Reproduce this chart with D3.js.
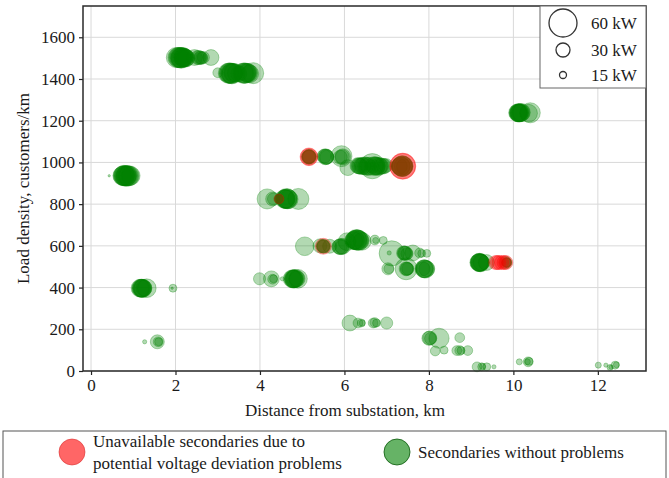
<!DOCTYPE html>
<html>
<head>
<meta charset="utf-8">
<script src="https://cdn.jsdelivr.net/npm/d3@7/dist/d3.min.js"></script>
<style>
  html, body { margin: 0; padding: 0; background: #fff; }
  svg { display: block; }
  svg text { font-family: "Liberation Serif", "Times New Roman", Times, "DejaVu Serif", serif !important; fill: #1a1a1a; }
</style>
</head>
<body>
<svg id="chart" width="669" height="478"></svg>
<script>
// ---------- data ----------
const xTicks = [0, 2, 4, 6, 8, 10, 12];
const yTicks = [0, 200, 400, 600, 800, 1000, 1200, 1400, 1600];
const sizeLegendKW = [60, 30, 15];
const seriesNames = ["Unavailable secondaries due to|potential voltage deviation problems", "Secondaries without problems"];

// [distance km, load density customers/km, kW]
const okPoints = [
  // ~1500
  [2.02,1503,43],[2.06,1503,43],[2.08,1503,43],[2.10,1503,43],[2.12,1501,43],[2.13,1503,43],[2.14,1500,43],[2.16,1504,42],[2.18,1505,40],[2.19,1502,40],[2.20,1502,40],[2.22,1503,38],[2.24,1500,38],[2.26,1500,35],
  [2.45,1503,34],[2.52,1503,30],[2.55,1503,30],[2.58,1502,28],[2.60,1502,28],[2.62,1500,26],[2.66,1503,26],[2.84,1503,34],
  // ~1428
  [3.00,1430,21],[3.25,1428,43],[3.27,1428,43],[3.28,1428,43],[3.30,1428,43],[3.32,1426,43],[3.33,1428,43],[3.34,1425,43],[3.36,1430,40],[3.38,1430,40],[3.44,1428,38],[3.50,1425,34],
  [3.60,1428,43],[3.62,1428,43],[3.64,1428,43],[3.66,1428,43],[3.68,1430,40],[3.70,1430,40],[3.72,1428,40],[3.76,1425,38],[3.84,1428,45],
  // ~936
  [0.43,936,5],[0.74,936,40],[0.76,936,42],[0.78,938,43],[0.79,936,43],[0.80,936,43],[0.82,934,43],[0.83,936,43],[0.84,936,43],[0.86,936,43],[0.88,935,43],[0.90,936,43],[0.94,936,40],
  // ~1238
  [10.10,1238,38],[10.11,1238,38],[10.12,1238,38],[10.13,1236,38],[10.14,1238,38],[10.15,1238,38],[10.16,1238,38],[10.18,1238,38],[10.19,1240,38],[10.12,1238,36],[10.36,1236,38],[10.40,1238,43],
  // ~1027 / ~982
  [5.16,1027,32],[5.16,1027,30],[5.16,1027,30],[5.16,1027,28],[5.16,1027,28],[5.52,1030,30],[5.55,1027,34],[5.56,1027,32],[5.57,1027,32],[5.58,1025,30],[5.90,1025,30],[5.93,1030,45],[5.96,1027,34],[5.95,1027,30],
  [6.08,975,34],[6.32,985,34],[6.34,983,34],[6.36,983,34],[6.38,982,34],[6.42,982,36],[6.44,984,36],[6.48,984,38],[6.52,982,38],[6.55,980,38],[6.60,982,38],[6.66,982,54],[6.70,982,40],[6.72,985,38],[6.74,982,38],[6.76,983,38],[6.80,980,38],[6.83,982,36],
  [6.86,982,34],[6.90,982,34],[6.94,982,32],[6.98,985,30],[7.30,982,34],[7.33,982,40],[7.34,982,40],[7.36,982,44],[7.37,982,44],[7.38,982,44],[7.40,982,40],[7.42,980,34],
  // ~825
  [4.17,825,43],[4.30,825,30],[4.32,825,26],[4.45,825,21],[4.45,825,18],[4.45,825,18],[4.58,825,40],[4.60,825,40],[4.61,825,40],[4.62,825,38],[4.63,827,43],[4.64,825,42],[4.65,825,42],[4.68,823,40],[4.91,825,45],
  // ~600
  [5.06,598,40],[5.42,600,30],[5.50,598,30],[5.50,598,28],[5.50,598,28],[5.50,598,26],[5.65,598,30],[5.88,596,32],[5.90,596,34],[5.92,596,34],[5.94,594,30],[5.96,598,34],
  [6.06,620,38],[6.22,625,38],[6.24,628,40],[6.26,628,40],[6.28,630,43],[6.29,628,43],[6.30,628,43],[6.32,628,43],[6.34,626,42],[6.36,625,40],[6.42,622,38],
  [6.72,628,21],[6.74,626,13],[6.92,626,17],
  // ~564
  [7.12,564,54],[7.06,566,9],[7.40,566,30],[7.42,565,30],[7.43,565,30],[7.45,564,30],[7.48,562,26],[7.62,566,34],[7.78,566,21],[7.83,564,17],[7.95,564,17],
  // ~490
  [7.03,490,26],[7.05,490,21],[7.46,490,47],[7.46,490,30],[7.47,490,28],[7.48,490,28],[7.50,490,26],[7.86,490,30],[7.88,490,38],[7.89,490,38],[7.90,490,38],[7.92,488,38],[7.95,490,34],
  // ~520
  [9.18,520,38],[9.19,520,38],[9.20,522,38],[9.20,520,38],[9.21,520,38],[9.22,518,38],[9.23,520,36],[9.24,520,34],[9.36,520,34],[9.82,520,26],[9.84,520,21],[9.84,520,20],[9.83,520,20],
  // ~442
  [3.99,442,26],[4.27,442,34],[4.30,440,21],[4.32,442,17],[4.53,442,9],[4.76,442,38],[4.78,442,38],[4.79,442,38],[4.80,440,38],[4.81,442,38],[4.82,442,38],[4.84,444,38],[4.88,442,34],[4.90,442,40],
  // ~397
  [1.16,397,38],[1.18,397,38],[1.19,397,38],[1.20,397,38],[1.21,397,38],[1.22,395,38],[1.23,397,38],[1.25,398,34],[1.32,397,40],[1.94,397,17],[1.92,397,5],
  // ~140
  [1.27,140,9],[1.57,140,30],[1.59,140,21],[1.60,140,17],
  // ~230
  [6.13,230,34],[6.32,230,21],[6.40,230,17],[6.42,230,13],[6.68,230,21],[6.72,232,21],[6.76,230,17],[7.00,230,26],
  // ~157 / ~98
  [8.00,157,30],[8.02,158,30],[8.04,156,26],[8.24,157,43],[8.73,160,21],
  [8.15,96,21],[8.36,100,17],[8.66,98,21],[8.73,98,21],[8.76,98,17],[8.92,98,21],
  // near zero
  [9.14,20,21],[9.25,20,17],[9.27,22,13],[9.37,20,17],[9.54,20,9],
  [10.14,44,13],[10.33,44,13],[10.35,44,21],[10.37,46,17],
  [12.01,28,13],[12.19,28,9],[12.29,17,13],[12.31,18,9],[12.41,28,17],[12.44,30,13]
];

const problemPoints = [
  [5.16,1027,38],[5.16,1027,36],[7.38,982,56],[7.38,982,54],
  [4.45,825,21],
  [5.50,598,34],
  [9.58,520,30],[9.62,520,30],[9.66,520,30],[9.72,520,30],[9.78,520,30],[9.82,520,30]
];

// ---------- layout ----------
const svg = d3.select("#chart");
const plot = { left: 83, right: 646, top: 6, bottom: 371 };

const x = d3.scaleLinear().domain([-0.19, 13.14]).range([plot.left, plot.right]);
const y = d3.scaleLinear().domain([0, 1750]).range([plot.bottom, plot.top]);
const r = d3.scaleLinear().domain([0, 60]).range([0, 14]);

const green = "#008000", red = "#ff0000";

// grid
const grid = svg.append("g");
grid.selectAll("line.gx").data(xTicks).join("line")
  .attr("x1", d => x(d)).attr("x2", d => x(d))
  .attr("y1", plot.top).attr("y2", plot.bottom)
  .attr("stroke", "#d9d9d9").attr("stroke-width", 1);
grid.selectAll("line.gy").data(yTicks).join("line")
  .attr("y1", d => y(d)).attr("y2", d => y(d))
  .attr("x1", plot.left).attr("x2", plot.right)
  .attr("stroke", "#d9d9d9").attr("stroke-width", 1);

// points
const pts = svg.append("g");
pts.selectAll("circle.ok").data(okPoints).join("circle")
  .attr("cx", d => x(d[0])).attr("cy", d => y(d[1])).attr("r", d => r(d[2]))
  .attr("fill", green).attr("fill-opacity", 0.3)
  .attr("stroke", green).attr("stroke-opacity", 0.3).attr("stroke-width", 1);
pts.selectAll("circle.bad").data(problemPoints).join("circle")
  .attr("cx", d => x(d[0])).attr("cy", d => y(d[1])).attr("r", d => r(d[2]))
  .attr("fill", red).attr("fill-opacity", 0.3)
  .attr("stroke", red).attr("stroke-opacity", 0.3).attr("stroke-width", 1);

// axes
const xAxis = svg.append("g").attr("transform", `translate(0,${plot.bottom})`)
  .call(d3.axisBottom(x).tickValues(xTicks).tickFormat(d3.format("d")).tickSize(4).tickPadding(4));
const yAxis = svg.append("g").attr("transform", `translate(${plot.left},0)`)
  .call(d3.axisLeft(y).tickValues(yTicks).tickFormat(d3.format("d")).tickSize(4).tickPadding(4));
[xAxis, yAxis].forEach(g => {
  g.attr("font-family", null).attr("font-size", null);
  g.select(".domain").remove();
  g.selectAll(".tick line").attr("stroke", "#222").attr("stroke-width", 1.2);
  g.selectAll(".tick text").style("font-size", "17px").attr("fill", "#1a1a1a");
});

// frame
svg.append("rect").attr("x", plot.left).attr("y", plot.top)
  .attr("width", plot.right - plot.left).attr("height", plot.bottom - plot.top)
  .attr("fill", "none").attr("stroke", "#2a2a2a").attr("stroke-width", 1.5);

// axis titles
svg.append("text").attr("x", 345).attr("y", 416).attr("text-anchor", "middle")
  .style("font-size", "17px").text("Distance from substation, km");
svg.append("text").attr("transform", `translate(29,${(plot.top + plot.bottom) / 2}) rotate(-90)`)
  .attr("text-anchor", "middle").style("font-size", "17px").text("Load density, customers/km");

// size legend
const sl = svg.append("g");
sl.append("rect").attr("x", 540).attr("y", plot.top).attr("width", plot.right - 540).attr("height", 82)
  .attr("fill", "#fff").attr("stroke", "#666").attr("stroke-width", 1);
const slY = [23, 50, 75];
sizeLegendKW.forEach((kw, i) => {
  sl.append("circle").attr("cx", 563).attr("cy", slY[i]).attr("r", r(kw))
    .attr("fill", "none").attr("stroke", "#333").attr("stroke-width", 1.3);
  sl.append("text").attr("x", 591).attr("y", slY[i] + 6).style("font-size", "17px").text(`${kw} kW`);
});

// series legend
const lg = svg.append("g");
lg.append("rect").attr("x", 3).attr("y", 431).attr("width", 663).attr("height", 52)
  .attr("fill", "#fff").attr("stroke", "#555").attr("stroke-width", 1);
lg.append("circle").attr("cx", 72).attr("cy", 452).attr("r", 13)
  .attr("fill", red).attr("fill-opacity", 0.6).attr("stroke", "#d83030").attr("stroke-opacity", 0.6);
const l1 = seriesNames[0].split("|");
lg.append("text").attr("x", 93).attr("y", 447).style("font-size", "17px").text(l1[0]);
lg.append("text").attr("x", 93).attr("y", 469).style("font-size", "17px").text(l1[1]);
lg.append("circle").attr("cx", 397).attr("cy", 452).attr("r", 13)
  .attr("fill", green).attr("fill-opacity", 0.6).attr("stroke", "#0a5a0a").attr("stroke-opacity", 0.8);
lg.append("text").attr("x", 418).attr("y", 458).style("font-size", "17px").text(seriesNames[1]);
</script>
</body>
</html>
